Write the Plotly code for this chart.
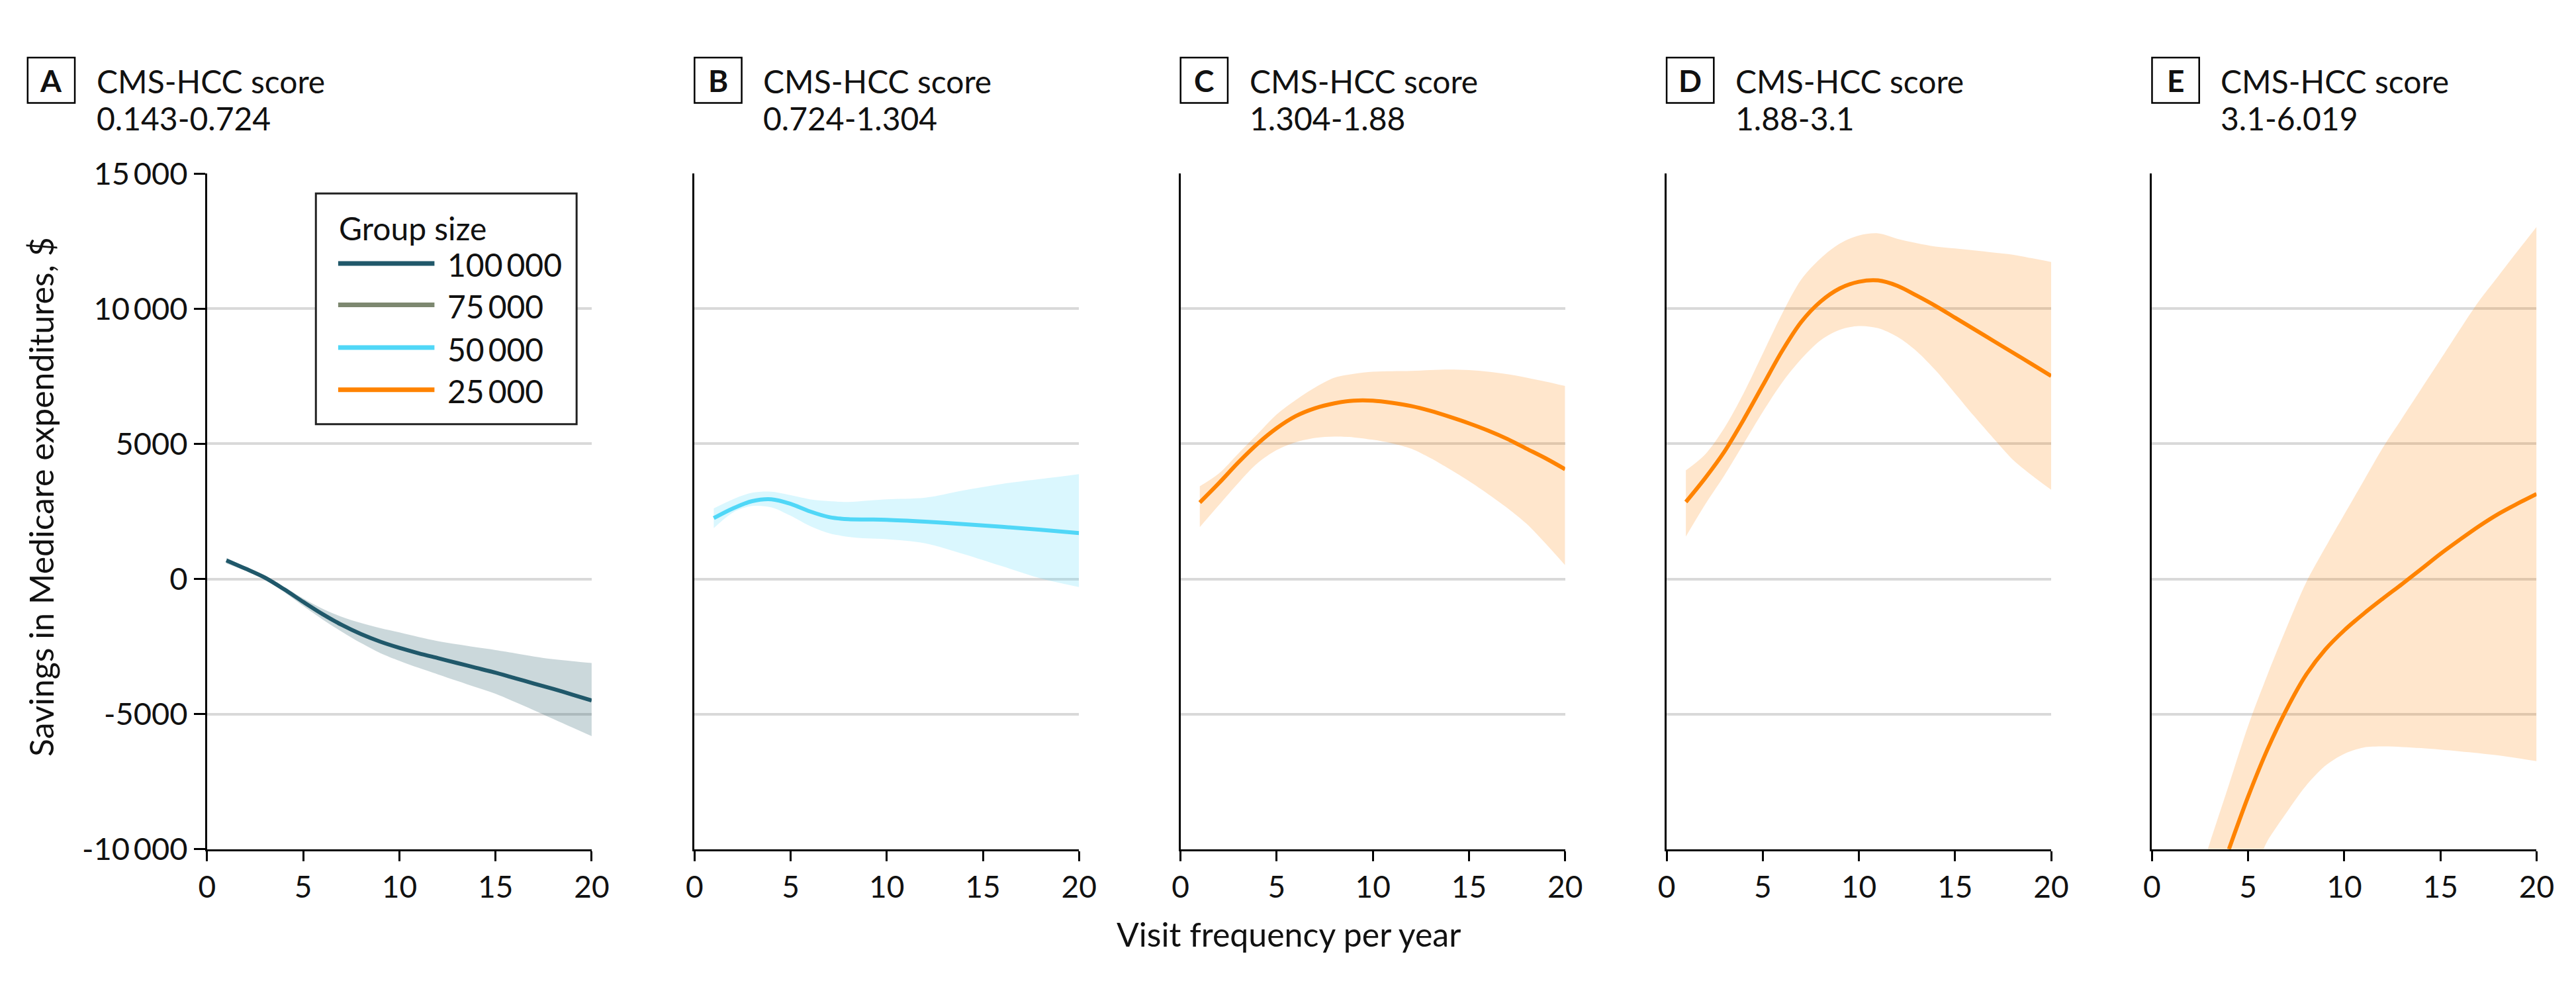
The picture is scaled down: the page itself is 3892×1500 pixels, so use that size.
import plotly.graph_objects as go

# ---------------- data ----------------
panel_letters = ["A", "B", "C", "D", "E"]
panel_ranges = ["0.143-0.724", "0.724-1.304", "1.304-1.88", "1.88-3.1", "3.1-6.019"]
group_labels = ["100\u2009000", "75\u2009000", "50\u2009000", "25\u2009000"]
group_colors = ["#20586a", "#7d8870", "#50d7f7", "#ff8300"]
band_colors = ["rgba(31,87,99,0.23)", "rgba(125,136,112,0.25)", "rgba(80,215,248,0.21)", "rgba(255,131,0,0.2)"]
panel_group = [0, 2, 3, 3, 3]  # group index used in each panel

x_ticks = [0, 5, 10, 15, 20]
y_ticks = [-10000, -5000, 0, 5000, 10000, 15000]
y_ticktext = ["-10\u2009000", "-5000", "0", "5000", "10\u2009000", "15\u2009000"]

# Panel A
A_x = [1, 2, 3, 4, 5, 6, 7, 8, 9, 10, 11, 12, 13, 14, 15, 16, 17, 18, 19, 20]
A_mean = [690, 380, 50, -380, -850, -1300, -1700, -2040, -2320, -2550, -2750, -2930, -3110, -3290, -3470, -3670, -3870, -4070, -4280, -4500]
A_hi = [780, 440, 100, -290, -720, -1100, -1400, -1630, -1820, -1980, -2150, -2300, -2420, -2530, -2630, -2750, -2870, -2970, -3040, -3110]
A_lo = [570, 300, -10, -480, -1000, -1500, -1950, -2370, -2740, -3030, -3290, -3530, -3770, -4010, -4250, -4550, -4860, -5180, -5500, -5820]

# Panel B
B_x = [1, 2, 3, 4, 5, 6, 7, 8, 9, 10, 12, 14, 16, 18, 20]
B_mean = [2250, 2610, 2880, 2950, 2780, 2500, 2290, 2210, 2200, 2190, 2120, 2030, 1930, 1820, 1700]
B_hi = [2610, 2950, 3190, 3230, 3100, 2950, 2880, 2850, 2900, 2950, 3010, 3280, 3520, 3700, 3880]
B_lo = [1880, 2460, 2700, 2650, 2340, 1960, 1690, 1560, 1500, 1470, 1320, 920, 470, 20, -300]

# Panel C
C_x = [1, 2, 3, 4, 5, 6, 7, 8, 9, 10, 11, 12, 13, 14, 15, 16, 17, 18, 19, 20]
C_mean = [2830, 3550, 4310, 5000, 5580, 6030, 6320, 6500, 6600, 6600, 6520, 6400, 6220, 6000, 5760, 5490, 5180, 4820, 4460, 4060]
C_hi = [3430, 3910, 4640, 5360, 6090, 6630, 7090, 7450, 7590, 7670, 7690, 7700, 7730, 7750, 7730, 7670, 7580, 7450, 7300, 7140]
C_lo = [1920, 2740, 3550, 4280, 4770, 5060, 5220, 5270, 5240, 5150, 5020, 4820, 4470, 4060, 3620, 3140, 2620, 2040, 1300, 510]

# Panel D
D_x = [1, 2, 3, 4, 5, 6, 7, 8, 9, 10, 11, 12, 13, 14, 15, 16, 17, 18, 19, 20]
D_mean = [2850, 3730, 4710, 5890, 7160, 8430, 9510, 10260, 10750, 11000, 11050, 10850, 10490, 10100, 9670, 9240, 8810, 8380, 7950, 7510]
D_hi = [4020, 4610, 5590, 6870, 8340, 9810, 11080, 11860, 12410, 12710, 12790, 12590, 12430, 12300, 12230, 12160, 12080, 12000, 11870, 11730]
D_lo = [1570, 2750, 3830, 5000, 6180, 7260, 8140, 8830, 9220, 9360, 9280, 8960, 8430, 7710, 6870, 6020, 5200, 4420, 3830, 3300]

# Panel E
E_x = [4, 5, 6, 7, 8, 9, 10, 11, 12, 13, 14, 15, 16, 17, 18, 19, 20]
E_mean = [-10000, -8050, -6310, -4820, -3560, -2620, -1900, -1290, -730, -190, 365, 930, 1450, 1950, 2400, 2785, 3147]
E_x_hi = [2.9, 3, 4, 5, 6, 7, 8, 9, 10, 11, 12, 13, 14, 15, 16, 17, 18, 19, 20]
E_hi = [-10000, -9780, -7610, -5430, -3550, -1800, -150, 1150, 2390, 3620, 4850, 5940, 7030, 8120, 9220, 10280, 11200, 12120, 13030]
E_x_lo = [5.8, 6, 7, 8, 9, 10, 11, 12, 13, 14, 16, 18, 20]
E_lo = [-10000, -9700, -8640, -7660, -6920, -6470, -6240, -6200, -6220, -6260, -6380, -6530, -6740]

panels = [
    (A_x, A_mean, A_x, A_hi, A_x, A_lo),
    (B_x, B_mean, B_x, B_hi, B_x, B_lo),
    (C_x, C_mean, C_x, C_hi, C_x, C_lo),
    (D_x, D_mean, D_x, D_hi, D_x, D_lo),
    (E_x, E_mean, E_x_hi, E_hi, E_x_lo, E_lo),
]

# ---------------- layout geometry (pixels) ----------------
W, H = 3892, 1500
axis_left_px = [295, 1039, 1781, 2523, 3264]
axis_w_px = 587
plot_top_px, plot_bot_px = 233, 1293

FONT = "Lato, 'Open Sans', 'Noto Sans', sans-serif"
TXT = "#111111"


def px(xp):
    return xp / W


def py(yp):
    return 1 - yp / H


fig = go.Figure()

for i, (xm, ym, xh, yh, xl, yl) in enumerate(panels):
    g = panel_group[i]
    xa = "x" if i == 0 else f"x{i+1}"
    ya = "y" if i == 0 else f"y{i+1}"
    fig.add_trace(go.Scatter(x=xl, y=yl, xaxis=xa, yaxis=ya, mode="lines",
                             line=dict(width=0, shape="spline", smoothing=0.9),
                             hoverinfo="skip", showlegend=False))
    fig.add_trace(go.Scatter(x=xh, y=yh, xaxis=xa, yaxis=ya, mode="lines",
                             line=dict(width=0, shape="spline", smoothing=0.9),
                             fill="tonexty", fillcolor=band_colors[g],
                             hoverinfo="skip", showlegend=False))
    fig.add_trace(go.Scatter(x=xm, y=ym, xaxis=xa, yaxis=ya, mode="lines",
                             line=dict(width=6, color=group_colors[g], shape="spline", smoothing=0.9),
                             name=group_labels[g], showlegend=False))

layout = dict(
    width=W, height=H,
    margin=dict(l=0, r=0, t=0, b=0),
    paper_bgcolor="white", plot_bgcolor="white",
    showlegend=False,
    font=dict(family=FONT, color=TXT, size=46),
)

for i in range(5):
    xkey = "xaxis" if i == 0 else f"xaxis{i+1}"
    ykey = "yaxis" if i == 0 else f"yaxis{i+1}"
    xa = "x" if i == 0 else f"x{i+1}"
    ya = "y" if i == 0 else f"y{i+1}"
    layout[xkey] = dict(
        domain=[px(axis_left_px[i]), px(axis_left_px[i] + axis_w_px)],
        anchor=ya, range=[0, 20], tickvals=x_ticks,
        ticks="outside", ticklen=15, tickwidth=2.5, tickcolor="black",
        showline=True, linecolor="black", linewidth=3,
        showgrid=False, zeroline=False,
        tickfont=dict(family=FONT, size=46, color=TXT),
    )
    yax = dict(
        domain=[py(plot_bot_px), py(plot_top_px)],
        anchor=xa, range=[-10000, 15000], tickvals=y_ticks,
        showgrid=True, gridcolor="#d9d9d9", gridwidth=4,
        showline=True, linecolor="black", linewidth=3, zeroline=False,
    )
    if i == 0:
        yax.update(ticks="outside", ticklen=17, tickwidth=2.5, tickcolor="black",
                   ticktext=y_ticktext, showticklabels=True,
                   tickfont=dict(family=FONT, size=47, color=TXT))
    else:
        yax.update(ticks="", showticklabels=False)
    layout[ykey] = yax

fig.update_layout(**layout)

shapes = []
annotations = []

# panel headers
box_left_px = [21] + axis_left_px[1:]
for i in range(5):
    bl = box_left_px[i]
    shapes.append(dict(type="rect", xref="paper", yref="paper",
                       x0=px(bl), x1=px(bl + 72), y0=py(122), y1=py(51),
                       line=dict(color="black", width=2.5), fillcolor="rgba(0,0,0,0)"))
    annotations.append(dict(xref="paper", yref="paper", x=px(bl + 36), y=py(87),
                            text=f"<b>{panel_letters[i]}</b>", showarrow=False,
                            xanchor="center", yanchor="middle",
                            font=dict(family=FONT, size=46, color=TXT)))
    annotations.append(dict(xref="paper", yref="paper", x=px(bl + 103), y=py(88),
                            text="CMS-HCC score", showarrow=False,
                            xanchor="left", yanchor="middle",
                            font=dict(family=FONT, size=48, color=TXT)))
    annotations.append(dict(xref="paper", yref="paper", x=px(bl + 103), y=py(146),
                            text=panel_ranges[i], showarrow=False,
                            xanchor="left", yanchor="middle",
                            font=dict(family=FONT, size=48, color=TXT)))

# axis titles
annotations.append(dict(xref="paper", yref="paper", x=px(42), y=py(740),
                        text="Savings in Medicare expenditures, $", textangle=-90,
                        showarrow=False, xanchor="center", yanchor="middle",
                        font=dict(family=FONT, size=50, color=TXT)))
annotations.append(dict(xref="paper", yref="paper", x=px(1946), y=py(1426),
                        text="Visit frequency per year", showarrow=False,
                        xanchor="center", yanchor="middle",
                        font=dict(family=FONT, size=50, color=TXT)))

# legend (drawn in panel A)
shapes.append(dict(type="rect", xref="paper", yref="paper", layer="above",
                   x0=px(461), x1=px(859), y0=py(626), y1=py(264),
                   line=dict(color="#222222", width=3), fillcolor="white"))
annotations.append(dict(xref="paper", yref="paper", x=px(494), y=py(318),
                        text="Group size", showarrow=False,
                        xanchor="left", yanchor="middle",
                        font=dict(family=FONT, size=48, color=TXT)))
legend_rows_px = [374, 439, 506, 572]
for k in range(4):
    shapes.append(dict(type="line", xref="paper", yref="paper", layer="above",
                       x0=px(495), x1=px(642), y0=py(legend_rows_px[k]), y1=py(legend_rows_px[k]),
                       line=dict(color=group_colors[k], width=7)))
    annotations.append(dict(xref="paper", yref="paper", x=px(660), y=py(legend_rows_px[k] + 2),
                            text=group_labels[k], showarrow=False,
                            xanchor="left", yanchor="middle",
                            font=dict(family=FONT, size=48, color=TXT)))

fig.update_layout(shapes=shapes, annotations=annotations)
fig.write_html("out.html")
